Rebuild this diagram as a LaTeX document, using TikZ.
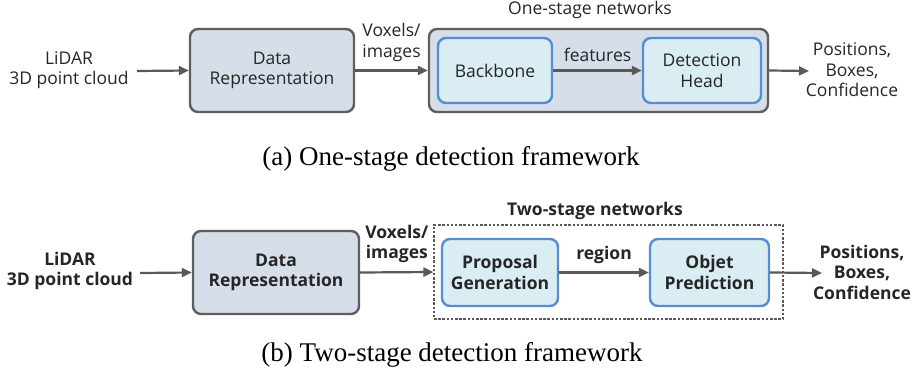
\documentclass[tikz,border=0pt]{standalone}
\usepackage{fontspec}
\setmainfont{Liberation Serif}
\newfontfamily\labelfont{Open Sans}
\usetikzlibrary{arrows.meta}
\definecolor{outerfill}{HTML}{D6DEE9}
\definecolor{outerline}{HTML}{5E5E5E}
\definecolor{innerfill}{HTML}{DAEDF3}
\definecolor{innerline}{HTML}{548DD4}
\definecolor{arrowgray}{HTML}{595959}
\begin{document}
\begin{tikzpicture}[x=1pt,y=-1pt,
  txt/.style={font=\labelfont\fontsize{17.5}{20.5}\selectfont, align=center, inner sep=0pt, text=black!85},
  btxt/.style={txt, font=\labelfont\bfseries\fontsize{17.5}{20.5}\selectfont},
  graybox/.style={draw=outerline, fill=outerfill, line width=2.4pt, rounded corners=8pt},
  bluebox/.style={draw=innerline, fill=innerfill, line width=2.4pt, rounded corners=8pt},
  flow/.style={draw=arrowgray, line width=2.2pt, -{Triangle[length=10pt,width=9pt]}},
  caption/.style={font=\fontsize{27}{30}\selectfont, inner sep=0pt}
]
\useasboundingbox (0,0) rectangle (917,382);

% ---------- (a) one-stage ----------
\node[txt] (inA) at (69,70) {LiDAR\\3D point cloud};
\node[graybox, minimum width=164pt, minimum height=83pt] (drA) at (272,70.5) {};
\node[txt] at (drA) {Data\\Representation};
\node[graybox, minimum width=339pt, minimum height=83pt] (netA) at (598.5,70.5) {};
\node[txt] (netAlab) at (590,10) {One-stage networks};
\node[bluebox, minimum width=114pt, minimum height=65pt] (bbA) at (495,70.5) {};
\node[txt] at (bbA) {Backbone};
\node[bluebox, minimum width=118pt, minimum height=65pt] (dhA) at (702,70.5) {};
\node[txt] at (dhA) {Detection\\Head};
\node[txt] (outA) at (852,70) {Positions,\\Boxes,\\Confidence};
\coordinate (inAe) at (137,71);
\coordinate (outAe) at (809,71);

\draw[flow] (inAe) -- (drA.west);
\draw[flow] (drA.east) -- (netA.west) node[midway, above=8pt, txt] {Voxels/\\images};
\draw[flow] (bbA.east) -- (dhA.west) node[midway, above=8pt, txt] {features};
\draw[flow] (netA.east) -- (outAe);

\node[caption] (capA) at (451,159) {(a) One-stage detection framework};

% ---------- (b) two-stage ----------
\node[btxt] (inB) at (70,271) {LiDAR\\3D point cloud};
\node[graybox, minimum width=166pt, minimum height=83pt] (drB) at (276,272.5) {};
\node[btxt] at (drB) {Data\\Representation};
\node[draw=arrowgray, dash pattern=on 2.5pt off 1.7pt, line width=1.1pt, minimum width=349pt, minimum height=94pt, inner sep=0pt] (netB) at (608.5,272) {};
\node[btxt] (netBlab) at (595,211) {Two-stage networks};
\node[bluebox, minimum width=116pt, minimum height=67pt] (pgB) at (500,272.5) {};
\node[btxt] at (pgB) {Proposal\\Generation};
\node[bluebox, minimum width=119pt, minimum height=67pt] (opB) at (709.5,272.5) {};
\node[btxt] at (opB) {Objet\\Prediction};
\node[btxt] (outB) at (862,272) {Positions,\\Boxes,\\Confidence};
\coordinate (inBe) at (140,273);
\coordinate (outBe) at (822,273);

\draw[flow] (inBe) -- (drB.west);
\draw[flow] (drB.east) -- (netB.west) node[midway, above=8pt, btxt] {Voxels/\\images};
\draw[flow] (pgB.east) -- (opB.west) node[midway, above=8pt, btxt] {region};
\draw[flow] (opB.east) -- (outBe);

\node[caption] (capB) at (452,355) {(b) Two-stage detection framework};
\end{tikzpicture}
\end{document}
